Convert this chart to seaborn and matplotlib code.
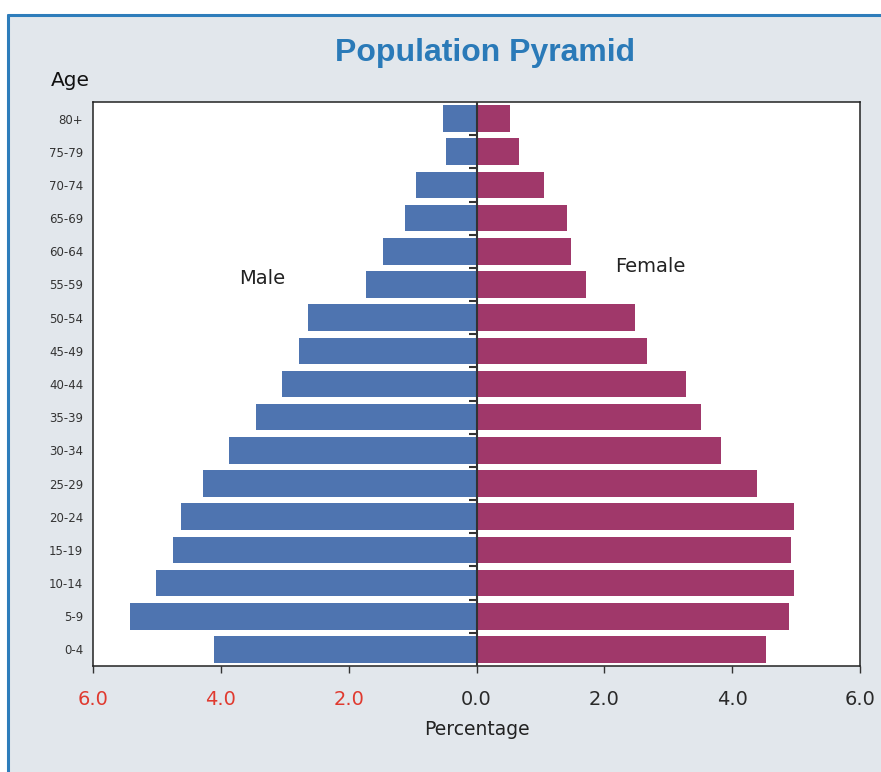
import matplotlib

matplotlib.use("Agg")
import matplotlib.pyplot as plt
import numpy as np
import pandas as pd
import seaborn as sns
from matplotlib.patches import Rectangle

# age groups, top to bottom as drawn
ages = ["80+", "75-79", "70-74", "65-69", "60-64", "55-59", "50-54", "45-49",
        "40-44", "35-39", "30-34", "25-29", "20-24", "15-19", "10-14", "5-9", "0-4"]
male = [0.53, 0.47, 0.94, 1.12, 1.47, 1.73, 2.64, 2.78, 3.05, 3.45, 3.88,
        4.28, 4.63, 4.75, 5.02, 5.42, 4.11]
female = [0.52, 0.67, 1.05, 1.41, 1.48, 1.72, 2.48, 2.66, 3.28, 3.52, 3.83,
          4.39, 4.97, 4.92, 4.97, 4.89, 4.53]
xticks = [-6, -4, -2, 0, 2, 4, 6]
xtick_labels = ["6.0", "4.0", "2.0", "0.0", "2.0", "4.0", "6.0"]

male_color = "#4e74b0"
female_color = "#a0386a"
bg = "#e2e7ec"
border = "#2e7dbb"

df = pd.DataFrame({
    "age": ages * 2,
    "value": [-v for v in male] + female,
    "sex": ["Male"] * len(ages) + ["Female"] * len(ages),
})

sns.set_style("white")
plt.rcParams["font.family"] = ["DejaVu Sans"]

fig = plt.figure(figsize=(8.81, 7.72), dpi=100)
fig.patch.set_facecolor(bg)
# white margin above and left of the framed panel
fig.add_artist(Rectangle((0, 1 - 15 / 772), 1, 15 / 772, transform=fig.transFigure,
                         facecolor="white", edgecolor="none"))
fig.add_artist(Rectangle((0, 0), 8 / 881, 1, transform=fig.transFigure,
                         facecolor="white", edgecolor="none"))
fig.add_artist(plt.Line2D([8 / 881, 8 / 881], [0, 1 - 15 / 772], color=border, lw=2.2,
                          transform=fig.transFigure))
fig.add_artist(plt.Line2D([8 / 881, 1], [1 - 15 / 772, 1 - 15 / 772], color=border, lw=2.2,
                          transform=fig.transFigure))

ax = fig.add_axes([93 / 881, 1 - 666 / 772, 767 / 881, 564 / 772])
ax.set_facecolor("white")

sns.barplot(data=df, x="value", y="age", hue="sex", order=ages, dodge=False,
            palette={"Male": male_color, "Female": female_color},
            width=0.8, orient="h", legend=False, ax=ax, saturation=1, linewidth=0)

ax.axvline(0, color="#333333", lw=1.5, zorder=5)
ax.plot(np.full(len(ages) - 1, -0.06), np.arange(len(ages) - 1) + 0.5, marker="_",
        ls="none", color="#333333", ms=6, mew=1.5, zorder=6)

ax.set_xlim(-6, 6)
ax.set_ylim(len(ages) - 0.5, -0.5)
ax.set_xticks(xticks)
ax.set_xticklabels(xtick_labels, fontsize=14)
for lbl, t in zip(ax.get_xticklabels(), xticks):
    lbl.set_color("#e03a2f" if t < 0 else "#2a2a2a")
ax.tick_params(axis="x", bottom=True, length=5, width=1, pad=12, color="#333333")
ax.tick_params(axis="y", left=False, length=0, pad=7, labelsize=8.5, labelcolor="#333333")

for s in ax.spines.values():
    s.set_color("#222222")
    s.set_linewidth(1.1)

ax.set_xlabel("Percentage", fontsize=13.5, color="#222222", labelpad=8)
ax.set_ylabel("")

ax.text(-3.36, 4.83, "Male", fontsize=14, ha="center", va="center", color="#222222")
ax.text(2.72, 4.47, "Female", fontsize=14, ha="center", va="center", color="#222222")

fig.text(70 / 881, 1 - 80 / 772, "Age", fontsize=14.5, ha="center", va="center", color="#111111")
fig.text(485 / 881, 1 - 53 / 772, "Population Pyramid", fontsize=23, fontweight="bold",
         family=["Liberation Sans", "DejaVu Sans"], ha="center", va="center", color="#2a7ab8")

fig.savefig("out.png", dpi=100, facecolor=fig.get_facecolor())
